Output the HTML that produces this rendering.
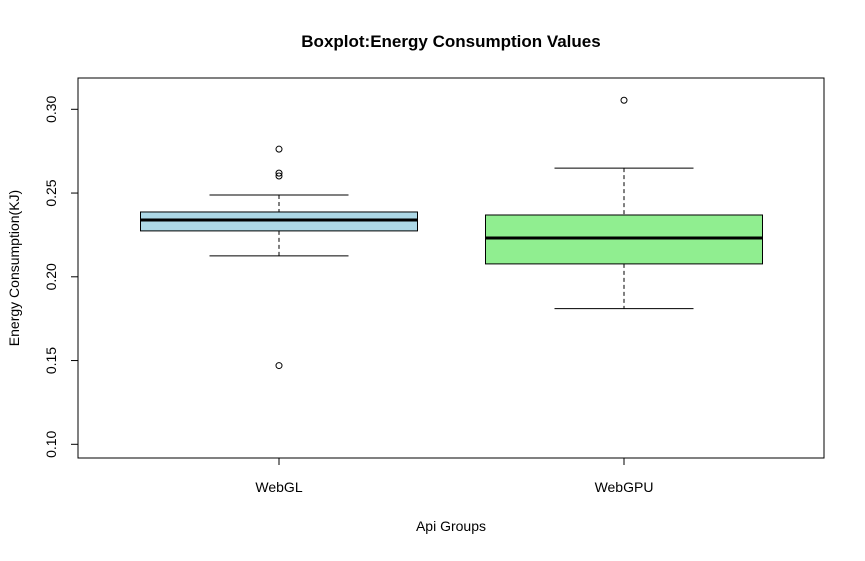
<!DOCTYPE html>
<html><head><meta charset="utf-8"><style>
body{margin:0;background:#fff;}
svg text{font-family:"Liberation Sans",Arial,sans-serif;}
</style></head><body>
<svg id="chart" width="865" height="556" xmlns="http://www.w3.org/2000/svg">
<rect width="865" height="556" fill="#fff"/>
<text x="451" y="47" text-anchor="middle" font-size="17" font-weight="bold">Boxplot:Energy Consumption Values</text>
<rect x="78" y="78" width="746" height="380" fill="none" stroke="#000" stroke-width="1"/>
<text x="451" y="531" text-anchor="middle" font-size="14">Api Groups</text>
<text transform="translate(19,268) rotate(-90)" text-anchor="middle" font-size="14">Energy Consumption(KJ)</text>
<g id="axes"></g>
<g id="boxes"></g>
</svg>
<script>
const categories = ["WebGL","WebGPU"];
const q1Values = [0.2274, 0.2077];
const medianValues = [0.2339, 0.2232];
const q3Values = [0.2387, 0.2369];
const lowerWhiskers = [0.2125, 0.1810];
const upperWhiskers = [0.2488, 0.2649];
const outlierValues = [[0.2762, 0.2619, 0.2602, 0.1470], [0.3054]];
const boxColors = ["#add8e6", "#90ee90"];
const yTicks = [0.10, 0.15, 0.20, 0.25, 0.30];
const yTickLabels = ["0.10","0.15","0.20","0.25","0.30"];

const NS = "http://www.w3.org/2000/svg";
function y(v){ return 444.3 - (v - 0.10) * 1675; }
function xc(i){ return 279 + i * 345; }
function mk(tag, attrs, parent){
  const e = document.createElementNS(NS, tag);
  for (const k in attrs) e.setAttribute(k, attrs[k]);
  parent.appendChild(e);
  return e;
}
const axes = document.getElementById("axes");
const boxes = document.getElementById("boxes");

let yl = mk("line",{x1:78,x2:78,y1:y(yTicks[0]),y2:y(yTicks[yTicks.length-1]),stroke:"#000"},axes);


yTicks.forEach((t,i)=>{
  const tk = mk("line",{x1:71,x2:78,y1:y(t),y2:y(t),stroke:"#000"},axes);
  
  
  const tx = mk("text",{transform:`translate(56,${y(t)}) rotate(-90)`,"text-anchor":"middle","font-size":14},axes);
  tx.textContent = yTickLabels[i];
  
  
});
let xl = mk("line",{x1:xc(0),x2:xc(1),y1:458,y2:458,stroke:"#000"},axes);


categories.forEach((c,i)=>{
  const tk = mk("line",{x1:xc(i),x2:xc(i),y1:458,y2:465,stroke:"#000"},axes);
  
  
  const tx = mk("text",{x:xc(i),y:492,"text-anchor":"middle","font-size":14},axes);
  tx.textContent = c;
  
  
});

categories.forEach((c,i)=>{
  const cx = xc(i), hw = 138.5, ww = 69.5;
  const g = mk("g",{},boxes);
  
  
  mk("line",{x1:cx,x2:cx,y1:y(upperWhiskers[i]),y2:y(q3Values[i]),stroke:"#000","stroke-dasharray":"4,3"},g);
  mk("line",{x1:cx,x2:cx,y1:y(q1Values[i]),y2:y(lowerWhiskers[i]),stroke:"#000","stroke-dasharray":"4,3"},g);
  mk("line",{x1:cx-ww,x2:cx+ww,y1:y(upperWhiskers[i]),y2:y(upperWhiskers[i]),stroke:"#000"},g);
  mk("line",{x1:cx-ww,x2:cx+ww,y1:y(lowerWhiskers[i]),y2:y(lowerWhiskers[i]),stroke:"#000"},g);
  mk("rect",{x:cx-hw,y:y(q3Values[i]),width:hw*2,height:y(q1Values[i])-y(q3Values[i]),fill:boxColors[i],stroke:"#000"},g);
  mk("line",{x1:cx-hw,x2:cx+hw,y1:y(medianValues[i]),y2:y(medianValues[i]),stroke:"#000","stroke-width":3},g);
  outlierValues[i].forEach(v=>{
    const o = mk("circle",{cx:cx,cy:y(v),r:3,fill:"none",stroke:"#000"},g);
    
    
  });
});
</script>
</body></html>
